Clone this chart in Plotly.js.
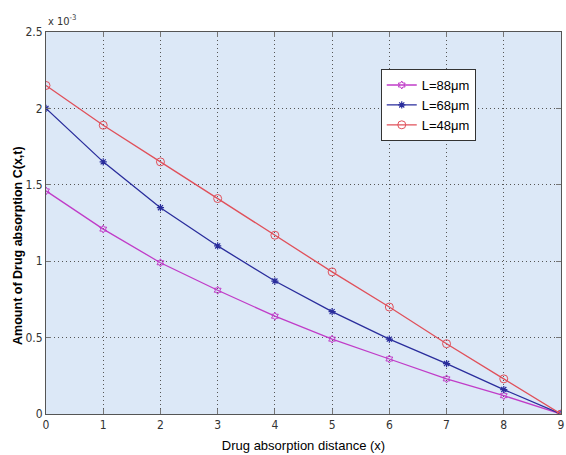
<!DOCTYPE html>
<html><head><meta charset="utf-8">
<script src="https://cdn.plot.ly/plotly-3.0.1.min.js"></script>
<style>html,body{margin:0;padding:0;background:#fff}#p{width:566px;height:455px}</style>
</head><body><div id="p"></div>
<script>
const xVals = [0,1,2,3,4,5,6,7,8,9];
const L88 = [1.46,1.21,0.99,0.81,0.64,0.49,0.36,0.23,0.12,0];
const L68 = [2.00,1.65,1.35,1.10,0.87,0.67,0.49,0.33,0.16,0];
const L48 = [2.15,1.89,1.65,1.41,1.17,0.93,0.70,0.46,0.23,0];
const names = ['L=88\u03bcm','L=68\u03bcm','L=48\u03bcm'];
const yTickVals = [0,0.5,1,1.5,2,2.5];
const yTickText = ['0','0.5','1','1.5','2','2.5'];
const scale = 1e-3;
const sc = a => a.map(v => v*scale);

const narrow = 'Liberation Sans Narrow, Arial Narrow, DejaVu Sans Condensed, Liberation Sans, sans-serif';
const arial = 'Liberation Sans, Arial, sans-serif';
const traces = [
  {x:xVals,y:sc(L88),name:names[0],mode:'lines+markers',line:{color:'#c03cc8',width:1.3},marker:{symbol:'hexagram-open',size:6,color:'#c03cc8',line:{width:1}}},
  {x:xVals,y:sc(L68),name:names[1],mode:'lines+markers',line:{color:'#2a2d9c',width:1.3},marker:{symbol:'asterisk-open',size:6,color:'#2a2d9c',line:{width:1.2}}},
  {x:xVals,y:sc(L48),name:names[2],mode:'lines+markers',line:{color:'#e0505a',width:1.3},marker:{symbol:'circle-open',size:8,color:'#e0505a',line:{width:1}}}
];
const tickFont = {family:narrow,size:12,color:'#333'};
const grid = {showgrid:true,gridcolor:'#555',griddash:'1px,3px',gridwidth:1,ticks:'inside',ticklen:5,tickcolor:'#777',
  showline:true,linecolor:'#555',mirror:'ticks',zeroline:false,tickfont:tickFont};
const layout = {
  width:566,height:455,
  margin:{l:46,r:5,t:32,b:41},
  paper_bgcolor:'#ffffff',plot_bgcolor:'#dce8f7',
  showlegend:true,
  legend:{x:0.65,y:0.903,xanchor:'left',yanchor:'top',bgcolor:'#ffffff',bordercolor:'#333',borderwidth:1,
          font:{family:arial,size:13,color:'#000'},tracegroupgap:0,itemwidth:30},
  xaxis:Object.assign({range:[0,9],tickvals:xVals,ticktext:xVals.map(String),
         title:{text:'Drug absorption distance (x)',font:{family:arial,size:13,color:'#000'},standoff:9}},grid),
  yaxis:Object.assign({range:[0,2.5e-3],tickvals:sc(yTickVals),ticktext:yTickText},grid),
  annotations:[
    {xref:'paper',yref:'paper',x:0,y:1,xanchor:'left',yanchor:'bottom',showarrow:false,yshift:2,
     text:'x 10<sup>-3</sup>',font:{family:narrow,size:11,color:'#333'}},
    {xref:'paper',yref:'paper',x:0,y:0.44,xanchor:'center',yanchor:'middle',showarrow:false,xshift:-28,textangle:-90,
     text:'<b>Amount of Drug absorption C(x,t)</b>',font:{family:arial,size:12.5,color:'#000'}}
  ]
};
Plotly.newPlot('p',traces,layout,{displayModeBar:false,staticPlot:true});
</script></body></html>
